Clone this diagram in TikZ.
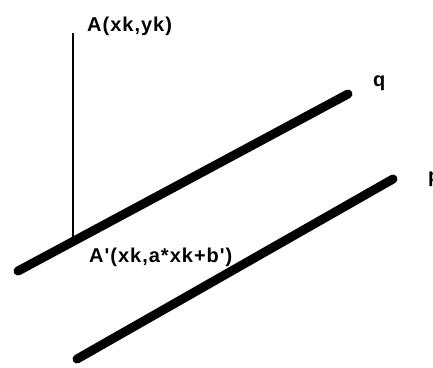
\documentclass[tikz,border=0pt]{standalone}
\usepackage{fontspec}
\setmainfont{Liberation Sans}
\newfontfamily\lblfont[LetterSpace=5]{Liberation Sans}
\usetikzlibrary{calc}

\begin{document}
\begin{tikzpicture}[x=1pt,y=-1pt,
  thickline/.style={line width=9pt,line cap=round,black},
  projline/.style={line width=1.5pt,black},
  ptlabel/.style={font=\lblfont\fontsize{20}{24}\selectfont\bfseries,inner sep=0pt,anchor=base west}
]
  \useasboundingbox (0,0) rectangle (433,367);

  % Parallel lines q and p
  \coordinate (q1) at (18,271);
  \coordinate (q2) at (348,94);
  \coordinate (p1) at (77,359);
  \coordinate (p2) at (393,179);
  \draw[thickline] (q1) -- (q2);
  \draw[thickline] (p1) -- (p2);

  % Point A and its projection A'
  \coordinate (A) at (73,33);
  \coordinate (Ap) at (73,238);
  \draw[projline] (A) -- (Ap);

  % Labels
  \node[ptlabel] (lblA) at (87,31) {A(xk,yk)};
  \node[ptlabel] (lblAp) at (89,262) {A'(xk,a*xk+b')};
  \node[ptlabel] (lblq) at (373,86) {q};
  \node[ptlabel] (lblp) at (428,182) {p};
\end{tikzpicture}
\end{document}
